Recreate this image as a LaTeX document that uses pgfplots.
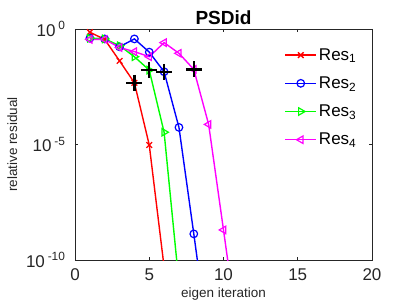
\documentclass[border=0pt]{standalone}
\usepackage{fontspec}
\setmainfont{Liberation Sans}
\usepackage{pgfplots}
\pgfplotsset{compat=1.18}
\definecolor{axgray}{gray}{0.15}
\definecolor{cR}{rgb}{1,0,0}
\definecolor{cB}{rgb}{0,0,1}
\definecolor{cG}{rgb}{0,1,0}
\definecolor{cM}{rgb}{1,0,1}
\begin{document}
\begin{tikzpicture}[x=1pt,y=1pt]
\begin{semilogyaxis}[
  at={(0,0)}, anchor=south west,
  scale only axis, width=297pt, height=231pt,
  xmin=0, xmax=20, ymin=1e-10, ymax=1,
  xtick={0,5,10,15,20}, xticklabels={0,5,10,15,20},
  ytick={1e-10,1e-5,1},
  yticklabels={{10\,\textsuperscript{-10}},{10\,\textsuperscript{-5}},{10\,\textsuperscript{0}}},
  tick align=inside, major tick length=3pt, minor tick num=0,
  yminorticks=false,
  axis line style={axgray, line width=0.6pt},
  every tick/.style={axgray, line width=0.6pt},
  tick label style={font=\fontsize{17}{19}\selectfont, text=axgray},
  xticklabel style={yshift=-5pt},
  yticklabel style={xshift=-6pt},
  xlabel={eigen iteration}, ylabel={relative residual},
  label style={font=\fontsize{13.5}{15}\selectfont, text=axgray},
  xlabel style={yshift=0pt},
  ylabel style={yshift=2pt},
  title={\textbf{PSDid}},
  title style={font=\fontsize{19}{21}\selectfont, yshift=-5pt},
  clip=true,
  legend cell align=left,
  legend style={draw=none, fill=none, at={(0.705,0.925)}, anchor=north west,
    font=\fontsize{17}{19}\selectfont, row sep=11pt, inner sep=0pt},
  legend image code/.code={
    \draw[mark repeat=2,mark phase=2] plot coordinates {(0pt,0pt)(15.5pt,0pt)(31pt,0pt)};
  },
  every axis plot/.append style={line width=1.4pt},
]
\addplot[cR, mark=x, mark size=4pt, mark options={line width=1.3pt}] coordinates {
(1,0.724) (2,0.355) (3,0.0417) (4,4.68e-3) (5,9.55e-6) (6,5.0e-11)};
\addlegendentry{Res\textsubscript{1}}
\addplot[cB, mark=o, mark size=3.8pt, mark options={line width=1.2pt}] coordinates {
(1,0.398) (2,0.372) (3,0.170) (4,0.372) (5,0.1) (6,0.0141) (7,5.5e-5) (8,1.35e-9) (9,2.5e-14)};
\addlegendentry{Res\textsubscript{2}}
\addplot[cG, mark=triangle, mark size=4.3pt, mark options={rotate=-90, line width=1.2pt}] coordinates {
(1,0.398) (2,0.372) (3,0.19) (4,0.063) (5,0.0166) (6,3.4e-5) (7,1e-11)};
\addlegendentry{Res\textsubscript{3}}
\addplot[cM, mark=triangle, mark size=4.3pt, mark options={rotate=90, line width=1.2pt}] coordinates {
(1,0.355) (2,0.355) (3,0.158) (4,0.105) (5,0.063) (6,0.257) (7,0.089) (8,0.0178) (9,7.4e-5) (10,2e-9) (11,5e-14)};
\addlegendentry{Res\textsubscript{4}}
\addplot[black, only marks, mark=+, mark size=8pt, mark options={line width=2.5pt}, forget plot] coordinates {
(4,4.68e-3) (5,0.0166) (6,0.0141) (8,0.0178)};
\end{semilogyaxis}
\pgfresetboundingbox
\path (-75pt,-45pt) rectangle (337pt,260pt);
\end{tikzpicture}
\end{document}
